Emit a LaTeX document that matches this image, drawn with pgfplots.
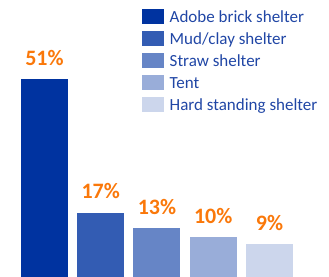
\documentclass[border=0pt]{standalone}
\usepackage{pgfplots}
\pgfplotsset{compat=1.18}
\usepackage{fontspec}
\setmainfont{Carlito}
\definecolor{c1}{RGB}{0,51,160}
\definecolor{c2}{RGB}{51,92,179}
\definecolor{c3}{RGB}{102,133,198}
\definecolor{c4}{RGB}{153,173,217}
\definecolor{c5}{RGB}{204,214,236}
\definecolor{lbl}{RGB}{250,120,10}
\definecolor{legtxt}{RGB}{32,70,165}
\begin{document}
\begin{tikzpicture}
\begin{axis}[
  scale only axis,
  width=329bp, height=277bp,
  hide axis,
  xmin=-0.791, xmax=5.058,
  ymin=0.66, ymax=71.14,
  ybar, bar width=47bp, bar shift=0pt,
  clip=false,
  nodes near coords,
  every node near coord/.style={anchor=base, yshift=14bp, inner sep=0pt,
    font=\fontsize{22bp}{24bp}\selectfont\bfseries, text=lbl},
  legend image code/.code={\fill[#1,draw=none] (0bp,-1.65bp) rectangle (22bp,13.35bp);},
  legend style={at={(rel axis cs:0.4307,0.9675)}, anchor=north west,
    draw=none, fill=none, inner sep=0pt, outer sep=0pt,
    row sep=4.75bp, column sep=6bp,
    font=\fontsize{17bp}{20bp}\selectfont,
    text=legtxt,
    cells={anchor=base west},
    nodes={inner sep=0pt, text height=11bp, text depth=4bp}},
]
\addplot[fill=c1, draw=none, nodes near coords={51\%}] coordinates {(0,51)};
\addplot[fill=c2, draw=none, nodes near coords={17\%}] coordinates {(1,17)};
\addplot[fill=c3, draw=none, nodes near coords={13\%}] coordinates {(2,13)};
\addplot[fill=c4, draw=none, nodes near coords={10\%}] coordinates {(3,10.8)};
\addplot[fill=c5, draw=none, nodes near coords={9\%}] coordinates {(4,9)};
\legend{Adobe brick shelter, Mud/clay shelter, Straw shelter, Tent, Hard standing shelter}
\end{axis}
\pgfresetboundingbox
\path (current axis.south west) rectangle (current axis.north east);
\end{tikzpicture}
\end{document}
